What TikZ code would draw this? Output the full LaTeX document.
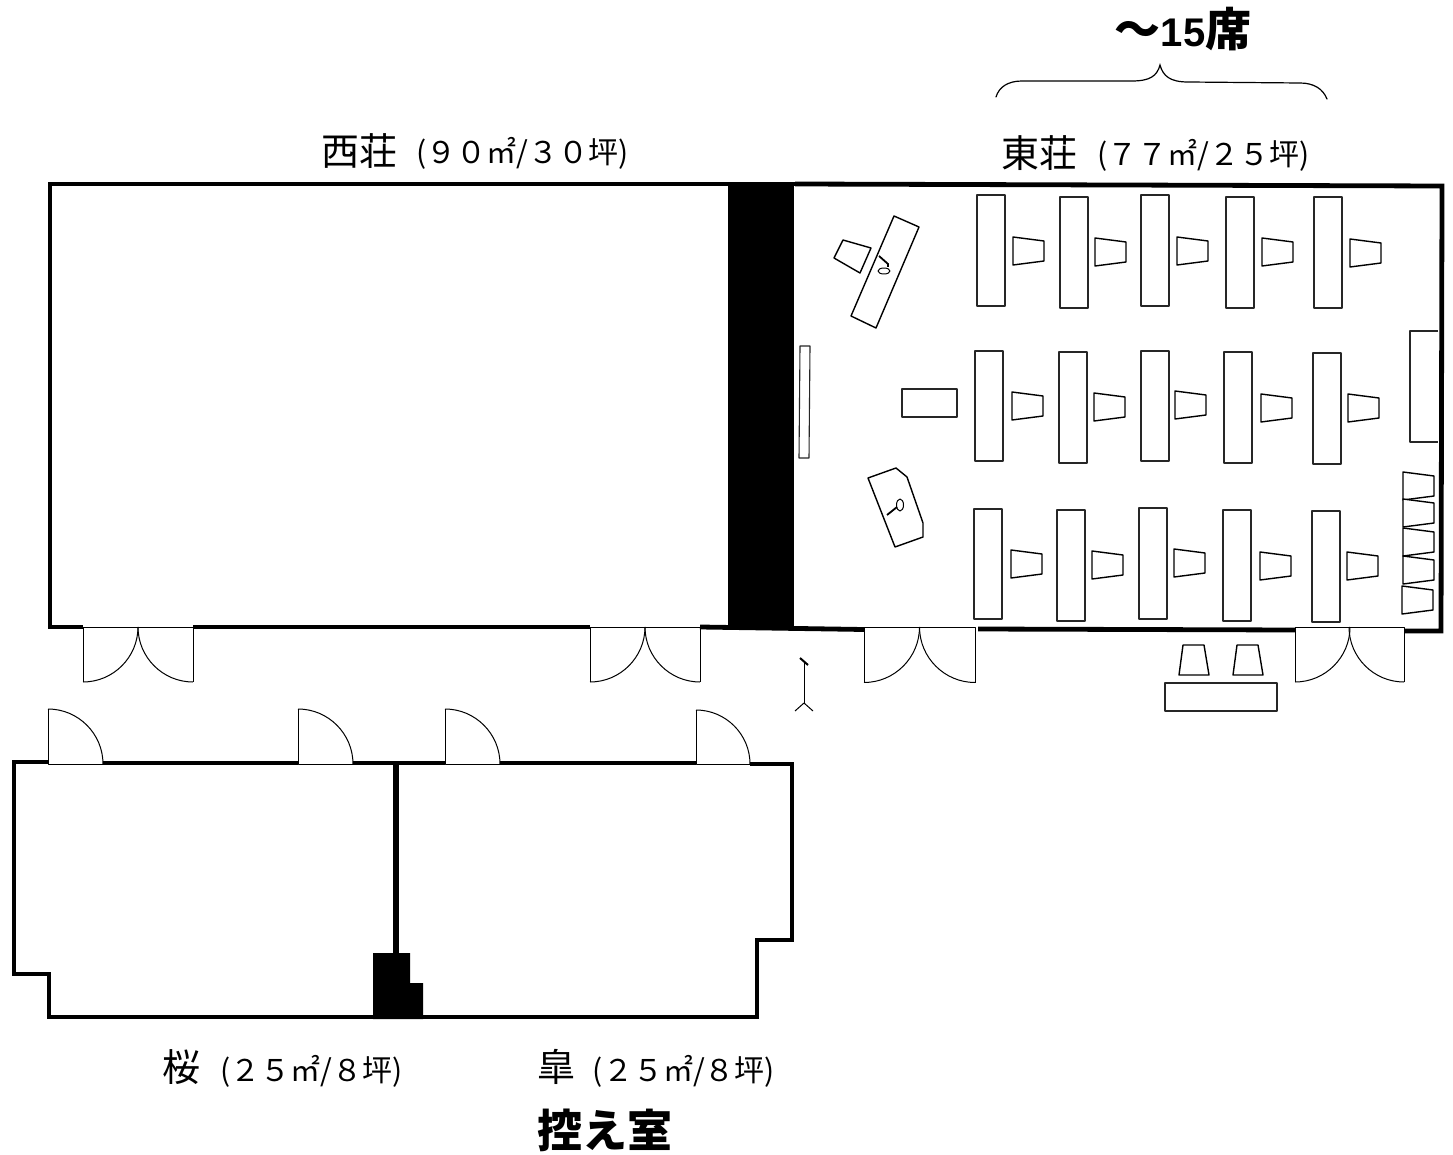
\documentclass[tikz,border=0pt]{standalone}
\usepackage{fontspec}
\setmainfont{Noto Sans CJK JP}
\newfontfamily\latinb{Liberation Sans}
\tikzset{
  wall/.style={line width=4.8pt,line join=miter,black},
  thin/.style={line width=1pt,black,line join=round},
  furn/.style={line width=1.1pt,black!85,fill=white,line join=round},
  seatline/.style={line width=1.4pt,black,fill=white,line join=round},
  lab/.style={inner sep=0pt,anchor=center,black},
  big/.style={lab,font=\fontsize{38}{38}\selectfont},
  par/.style={lab,font=\fontsize{30}{30}\selectfont},
}
\newcommand{\dbldoor}[4]{% x1,x2,ytop,r
  \draw[thin] (#1,#3+#4) -- (#1,#3) -- (#2,#3) -- (#2,#3+#4);
  \draw[thin] (#1,#3+#4) .. controls (#1+0.55*#4,#3+#4) and (#1+#4,#3+0.55*#4) .. (#1+#4,#3);
  \draw[thin] (#2,#3+#4) .. controls (#2-0.55*#4,#3+#4) and (#2-#4,#3+0.55*#4) .. (#2-#4,#3);
}
\newcommand{\sgldoor}[3]{% x,ybottom,r
  \draw[thin] (#1,#2-#3) -- (#1,#2) -- (#1+#3,#2);
  \draw[thin] (#1,#2-#3) .. controls (#1+0.55*#3,#2-#3) and (#1+#3,#2-0.55*#3) .. (#1+#3,#2);
}
\newcommand{\deskv}[3]{\draw[furn] (#1,#2) rectangle (#1+28,#3);}
\newcommand{\seat}[2]{% left x, centre y
  \draw[seatline] (#1,#2-14) -- (#1+31,#2-10) -- (#1+31,#2+10) -- (#1,#2+14) -- cycle;
}
\begin{document}
\begin{tikzpicture}[x=1pt,y=-1pt]
\useasboundingbox (0,0) rectangle (1453,1155);
\fill[white] (0,0) rectangle (1453,1155);

% upper rooms
\draw[wall] (795,184) -- (50,184) -- (50,627) -- (83,627);
\draw[wall] (193,627) -- (590,627);
\draw[wall] (700,627) -- (864,629.5);
\draw[wall] (795,184) -- (1442,186) -- (1441,631) -- (1404,631);
\draw[wall] (1295,630) -- (978,629);
\fill[black] (728,183) rectangle (794,629);

% doors of upper rooms
\dbldoor{83}{193}{627}{55}
\dbldoor{590}{700}{627}{55}
\dbldoor{864}{975}{627}{55.5}
\dbldoor{1295}{1404}{627}{55}

% lower rooms
\draw[wall] (48,762) -- (14,762) -- (14,974) -- (49,974) -- (49,1017) -- (757,1017) -- (757,940) -- (792,940) -- (792,764) -- (750,764);
\draw[wall] (103,763) -- (298,763);
\draw[wall] (353,763) -- (445,763);
\draw[wall] (500,763) -- (696,763);
\draw[line width=6pt] (396,762) -- (396,955);
\fill[black] (373,953) -- (410,953) -- (410,983) -- (423,983) -- (423,1019) -- (373,1019) -- cycle;
\sgldoor{48}{764}{55}
\sgldoor{298}{764}{55}
\sgldoor{445}{764}{55}
\sgldoor{696}{764}{54}

% desks, row 1
\deskv{977}{195}{306}\deskv{1060}{197}{308}\deskv{1141}{195}{306}\deskv{1226}{197}{308}\deskv{1314}{197}{308}
\seat{1013}{251}\seat{1095}{252}\seat{1177}{251}\seat{1262}{252}\seat{1350}{253}
% row 2
\deskv{975}{351}{461}\deskv{1059}{352}{463}\deskv{1141}{351}{461}\deskv{1224}{352}{463}\deskv{1313}{353}{464}
\seat{1012}{406}\seat{1094}{407}\seat{1175}{405}\seat{1261}{408}\seat{1348}{408}
% row 3
\deskv{974}{509}{619}\deskv{1057}{510}{621}\deskv{1139}{508}{619}\deskv{1223}{510}{621}\deskv{1312}{511}{622}
\seat{1011}{564}\seat{1092}{565}\seat{1174}{563}\seat{1260}{566}\seat{1347}{566}

% right side
\draw[furn] (1438,331) -- (1410,331) -- (1410,442) -- (1438,442);
\seat{1403}{486}\seat{1403}{513}\seat{1403}{542}\seat{1403}{570}\seat{1402}{600}

% outside bottom
\draw[seatline] (1183,645) -- (1204,645) -- (1209,675) -- (1179,675) -- cycle;
\draw[seatline] (1237,645) -- (1258,645) -- (1263,675) -- (1233,675) -- cycle;
\draw[furn] (1165,683) rectangle (1277,711);

% speakers' side
\draw[furn] (902,389) rectangle (957,417);
\draw[furn] (800,346) -- (810,346) -- (809,458) -- (799,458) -- cycle;
\draw[seatline] (894,216) -- (919,227) -- (876,328) -- (851,316) -- cycle;
\draw[seatline] (843,240) -- (871,248) -- (860,273) -- (834,258) -- cycle;
\draw[thin] (884,271) ellipse [x radius=6,y radius=3];
\draw[line width=1.8pt] (879,256) -- (888,264) -- (888,267);
\draw[seatline] (868,478) -- (896,468) -- (907,477) -- (923,523) -- (923,537) -- (895,547) -- cycle;
\draw[thin] (900,505) ellipse [x radius=3.5,y radius=6];
\draw[line width=1.8pt] (897,507) -- (887,515);

% microphone stand
\draw[thin] (804,663) -- (804,703);
\draw[thin] (795,711) -- (804,703) -- (813,711);
\draw[line width=2pt] (800,658) -- (808,665);

% brace
\draw[line width=1.2pt,line cap=round] (996,97) .. controls (999,87) and (1008,81) .. (1022,81) -- (1132,81) .. controls (1150,81) and (1157,76) .. (1160,65) .. controls (1163,76) and (1170,82) .. (1188,82) -- (1300,83) .. controls (1314,83) and (1323,89) .. (1327,99);

% labels
\node[lab,font=\fontsize{46}{46}\selectfont\bfseries] (seats) at (1183,29) {～{\latinb\fontsize{40}{40}\selectfont\bfseries 15}席};
\node[big] (west) at (359.5,151) {西荘};
\node[par] (wests) at (522.5,153) {(９０㎡/３０坪)};
\node[big] (east) at (1039.5,153) {東荘};
\node[par] (easts) at (1203.5,155) {(７７㎡/２５坪)};
\node[big] (sakura) at (181,1067) {桜};
\node[par] (sakuras) at (311.5,1071) {(２５㎡/８坪)};
\node[big] (satsuki) at (556,1067) {皐};
\node[par] (satsukis) at (684,1071) {(２５㎡/８坪)};
\node[lab,font=\fontsize{45}{45}\selectfont\bfseries] (waiting) at (605,1130) {控え室};
\end{tikzpicture}
\end{document}
